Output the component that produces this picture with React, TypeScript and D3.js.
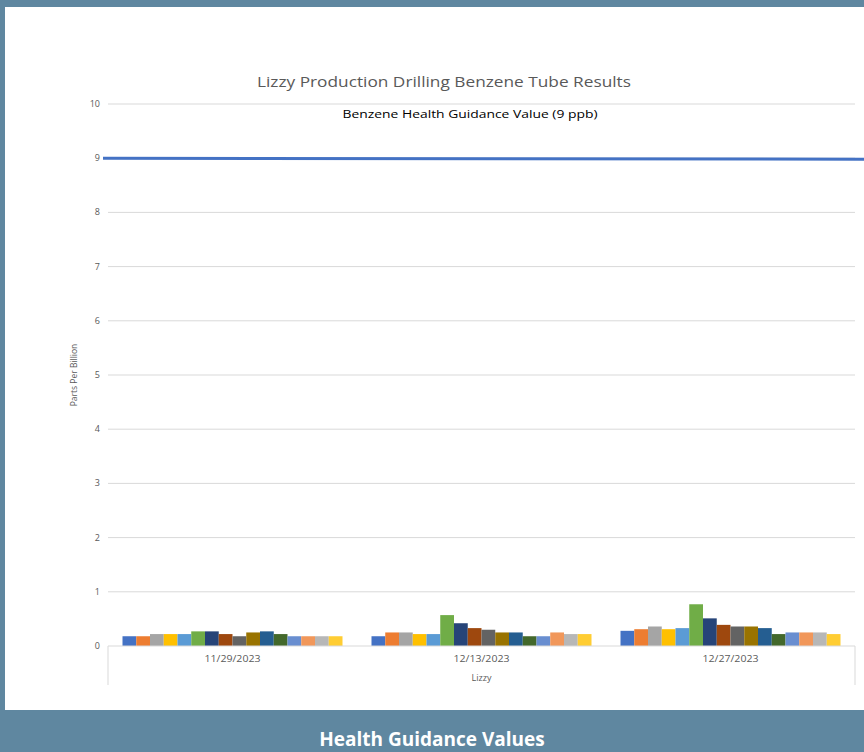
import React from "react";
import * as d3 from "d3";

const dates = ["11/29/2023", "12/13/2023", "12/27/2023"];
const seriesNames = ["S1", "S2", "S3", "S4", "S5", "S6", "S7", "S8", "S9", "S10", "S11", "S12", "S13", "S14", "S15", "S16"];
const seriesColors = ["#4472C4", "#ED7D31", "#A5A5A5", "#FFC000", "#5B9BD5", "#70AD47", "#264478", "#9E480E",
  "#636363", "#997300", "#255E91", "#43682B", "#698ED0", "#F1975A", "#B7B7B7", "#FFCD33"];
// one row per date, one value per tube
const valuesNov29 = [0.18, 0.18, 0.22, 0.22, 0.22, 0.27, 0.27, 0.22, 0.18, 0.25, 0.27, 0.22, 0.18, 0.18, 0.18, 0.18];
const valuesDec13 = [0.18, 0.25, 0.25, 0.22, 0.22, 0.57, 0.42, 0.33, 0.30, 0.25, 0.25, 0.18, 0.18, 0.25, 0.22, 0.22];
const valuesDec27 = [0.28, 0.31, 0.36, 0.31, 0.33, 0.77, 0.51, 0.39, 0.36, 0.36, 0.33, 0.22, 0.25, 0.25, 0.25, 0.22];
const yTicks = [0, 1, 2, 3, 4, 5, 6, 7, 8, 9, 10];
const guidanceValue = 9;

const W = 864, H = 752;
const font = "'Open Sans', sans-serif";

export default function App() {
  const rows = [valuesNov29, valuesDec13, valuesDec27];
  const left = 108, right = 855, top = 104, bottom = 646;

  const x0 = d3.scaleBand().domain(dates).range([left, right]).padding(0);
  const gap = 29;
  const x1 = d3.scaleBand().domain(seriesNames).range([gap / 2, x0.bandwidth() - gap / 2]).padding(0);
  const y = d3.scaleLinear().domain([0, 10]).range([bottom, top]);

  return (
    <svg width={W} height={H} style={{position: "absolute", left: 0, top: 0}}>
      <rect x={0} y={0} width={W} height={H} fill="#5f87a0"/>
      <rect x={5} y={7} width={W - 5} height={703} fill="white"/>

      <text x={444} y={87} textAnchor="middle" fontFamily={font} fontSize={15} fill="#595959"
            textLength={374} lengthAdjust="spacingAndGlyphs">
        Lizzy Production Drilling Benzene Tube Results
      </text>

      {yTicks.map(t => (
        <g key={t}>
          {t > 0 && <line x1={left} x2={right} y1={y(t)} y2={y(t)} stroke="#d9d9d9" strokeWidth={1}/>}
          <text x={100} y={y(t) + 3} textAnchor="end" fontFamily={font} fontSize={9} fill="#595959">{t}</text>
        </g>
      ))}

      <text transform={`translate(77, ${(top + bottom) / 2}) rotate(-90)`} textAnchor="middle"
            fontFamily={font} fontSize={8.5} fill="#595959">Parts Per Billion</text>

      {rows.map((vals, i) => (
        <g key={dates[i]} transform={`translate(${x0(dates[i])},0)`}>
          {vals.map((v, j) => (
            <rect key={j} x={x1(seriesNames[j])} y={y(v)} width={x1.bandwidth()} height={y(0) - y(v)}
                  fill={seriesColors[j]}/>
          ))}
        </g>
      ))}

      <line x1={103} x2={W} y1={y(guidanceValue)} y2={y(guidanceValue) + 1} stroke="#4472C4" strokeWidth={3}/>
      <text x={470} y={118} textAnchor="middle" fontFamily={font} fontSize={11} fill="#000"
            textLength={255} lengthAdjust="spacingAndGlyphs">
        Benzene Health Guidance Value (9 ppb)
      </text>

      <line x1={left} x2={right} y1={bottom} y2={bottom} stroke="#d9d9d9"/>
      {[left, right].map(xv => (
        <line key={xv} x1={xv} x2={xv} y1={bottom} y2={685} stroke="#d9d9d9"/>
      ))}
      {dates.map(d => (
        <text key={d} x={x0(d)! + x0.bandwidth() / 2} y={662} textAnchor="middle" fontFamily={font}
              fontSize={9} fill="#595959" textLength={56} lengthAdjust="spacingAndGlyphs">{d}</text>
      ))}
      <text x={(left + right) / 2} y={681} textAnchor="middle" fontFamily={font} fontSize={9} fill="#595959">Lizzy</text>

      <text x={432} y={746} textAnchor="middle" fontFamily={font} fontWeight="bold" fontSize={19} fill="white">
        Health Guidance Values
      </text>
    </svg>
  );
}
